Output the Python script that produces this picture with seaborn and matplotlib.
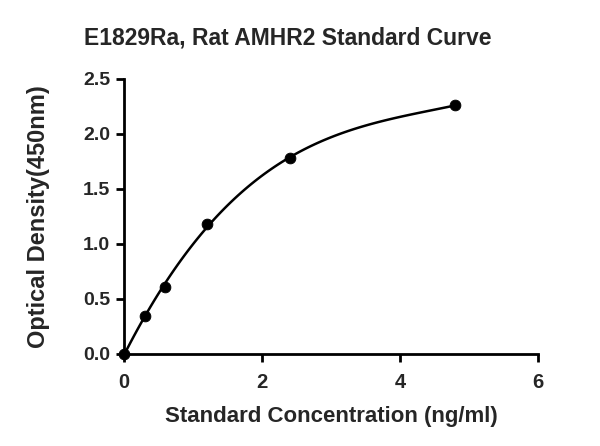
import matplotlib
matplotlib.use('Agg')
import matplotlib.pyplot as plt
import seaborn as sns
import pandas as pd

# Standard curve data
conc = [0.0, 0.3, 0.6, 1.2, 2.4, 4.8]
od = [0.0, 0.345, 0.61, 1.18, 1.78, 2.26]
x_ticks = [0, 2, 4, 6]
y_ticks = [0.0, 0.5, 1.0, 1.5, 2.0, 2.5]

df = pd.DataFrame({'conc': conc, 'od': od})

sns.set_style('ticks')
plt.rcParams['font.family'] = ['Liberation Sans', 'DejaVu Sans']
plt.rcParams['font.weight'] = 'bold'

fig = plt.figure(figsize=(6, 4.46), dpi=100)
ax = fig.add_axes([0.2067, 0.2063, 0.69, 0.6167])

# fitted curve through the standards
sns.regplot(data=df, x='conc', y='od', order=3, ci=None, ax=ax,
            scatter=False, line_kws={'color': 'black', 'lw': 1.8})
sns.scatterplot(data=df, x='conc', y='od', ax=ax, color='black',
                s=60, edgecolor='black', zorder=5, clip_on=False)

ax.set_xlim(0, 6)
ax.set_ylim(0, 2.5)
ax.set_xticks(x_ticks)
ax.set_yticks(y_ticks)
ax.set_yticklabels([f'{v:.1f}' for v in y_ticks])
ax.tick_params(labelsize=14, width=2, length=6, color='black', pad=4)
ax.tick_params(axis='x', labelsize=14.5, pad=8)
for lab in ax.get_xticklabels() + ax.get_yticklabels():
    lab.set_fontweight('bold')
sns.despine(ax=ax)
for s in ['left', 'bottom']:
    ax.spines[s].set_linewidth(2)
    ax.spines[s].set_color('black')

ax.set_xlabel('Standard Concentration (ng/ml)', fontsize=16, fontweight='bold', labelpad=10)
ax.set_ylabel('Optical Density(450nm)', fontsize=17, fontweight='bold', labelpad=24)
fig.suptitle('E1829Ra, Rat AMHR2 Standard Curve', fontsize=16.5, fontweight='bold', x=0.48, y=0.94)

fig.savefig('out.png', dpi=100)
